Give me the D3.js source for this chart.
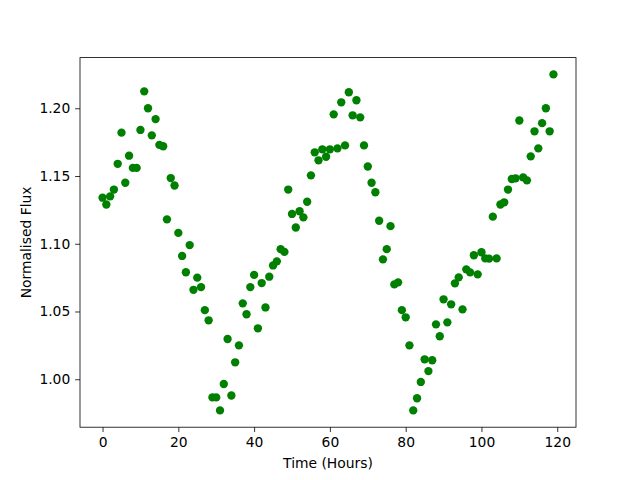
<!DOCTYPE html>
<html>
<head>
<meta charset="utf-8">
<script src="https://cdn.jsdelivr.net/npm/d3@7"></script>
<style>
  html, body { margin: 0; padding: 0; background: #fff; }
  svg { display: block; }
  text { font-family: "DejaVu Sans", sans-serif; fill: #000; }
</style>
</head>
<body>
<svg id="chart" width="640" height="480"></svg>
<script>
// Time in hours (one reading per hour)
const hours = d3.range(0, 120);
// Normalised flux values
const flux = [
  1.134, 1.129, 1.135, 1.140, 1.159, 1.182, 1.145, 1.165, 1.156, 1.156,
  1.184, 1.2125, 1.200, 1.180, 1.192, 1.173, 1.172, 1.118, 1.1485, 1.143,
  1.108, 1.091, 1.079, 1.099, 1.066, 1.075, 1.068, 1.051, 1.0435, 0.9866,
  0.9866, 0.977, 0.9965, 1.0297, 0.988, 1.0125, 1.025, 1.056, 1.048, 1.068,
  1.077, 1.0376, 1.071, 1.053, 1.0757, 1.084, 1.087, 1.096, 1.094, 1.140,
  1.122, 1.112, 1.124, 1.1195, 1.131, 1.1505, 1.1675, 1.1616, 1.1697, 1.1642,
  1.1697, 1.1955, 1.1704, 1.2044, 1.1726, 1.2118, 1.1948, 1.2059, 1.1933, 1.1726,
  1.157, 1.145, 1.138, 1.117, 1.0885, 1.096, 1.113, 1.070, 1.0715, 1.051,
  1.0457, 1.025, 0.977, 0.986, 0.998, 1.0147, 1.006, 1.014, 1.0405, 1.0317,
  1.059, 1.042, 1.0553, 1.0708, 1.0752, 1.0516, 1.0811, 1.0789, 1.0915, 1.0774,
  1.0937, 1.0892, 1.089, 1.120, 1.0892, 1.129, 1.1306, 1.140, 1.1478, 1.1483,
  1.191, 1.149, 1.1468, 1.1645, 1.183, 1.1704, 1.189, 1.200, 1.183, 1.225
];
const xTicks = [0, 20, 40, 60, 80, 100, 120];
const yTicks = [1.00, 1.05, 1.10, 1.15, 1.20];
const xLabel = "Time (Hours)";
const yLabel = "Normalised Flux";

const data = hours.map((h, i) => ({ x: h, y: flux[i] }));

const plotL = 80, plotR = 576, plotT = 57.6, plotB = 427.2;

function padded(ext) {
  const r = ext[1] - ext[0];
  return [ext[0] - 0.05 * r, ext[1] + 0.05 * r];
}

const x = d3.scaleLinear().domain(padded(d3.extent(hours))).range([plotL, plotR]);
const y = d3.scaleLinear().domain(padded(d3.extent(flux))).range([plotB, plotT]);

const svg = d3.select("#chart");

// points
svg.append("g")
  .selectAll("circle")
  .data(data)
  .join("circle")
  .attr("cx", d => x(d.x))
  .attr("cy", d => y(d.y))
  .attr("r", 4.17)
  .attr("fill", "#008000");

// axes
const tickLen = 4.86;
const xAxis = d3.axisBottom(x).tickValues(xTicks).tickFormat(d3.format("d"))
  .tickSizeInner(tickLen).tickSizeOuter(0).tickPadding(4.86);
const yAxis = d3.axisLeft(y).tickValues(yTicks).tickFormat(d3.format(".2f"))
  .tickSizeInner(tickLen).tickSizeOuter(0).tickPadding(4.86);

const gx = svg.append("g").attr("transform", `translate(0,${plotB})`).call(xAxis);
const gy = svg.append("g").attr("transform", `translate(${plotL},0)`).call(yAxis);

[gx, gy].forEach(g => {
  g.select(".domain").remove();
  g.selectAll(".tick line").attr("stroke", "#000").attr("stroke-width", 0.8);
  g.selectAll(".tick text").attr("font-size", "13.89px").attr("font-family", "DejaVu Sans").attr("fill", "#000");
});

// frame (spines)
svg.append("rect")
  .attr("x", plotL).attr("y", plotT)
  .attr("width", plotR - plotL).attr("height", plotB - plotT)
  .attr("fill", "none").attr("stroke", "#000").attr("stroke-width", 0.8);

// axis labels
svg.append("text")
  .attr("x", (plotL + plotR) / 2).attr("y", 468)
  .attr("text-anchor", "middle")
  .attr("font-size", "13.89px")
  .text(xLabel);

svg.append("text")
  .attr("transform", `translate(31,${(plotT + plotB) / 2}) rotate(-90)`)
  .attr("text-anchor", "middle")
  .attr("font-size", "13.89px")
  .text(yLabel);
</script>
</body>
</html>
